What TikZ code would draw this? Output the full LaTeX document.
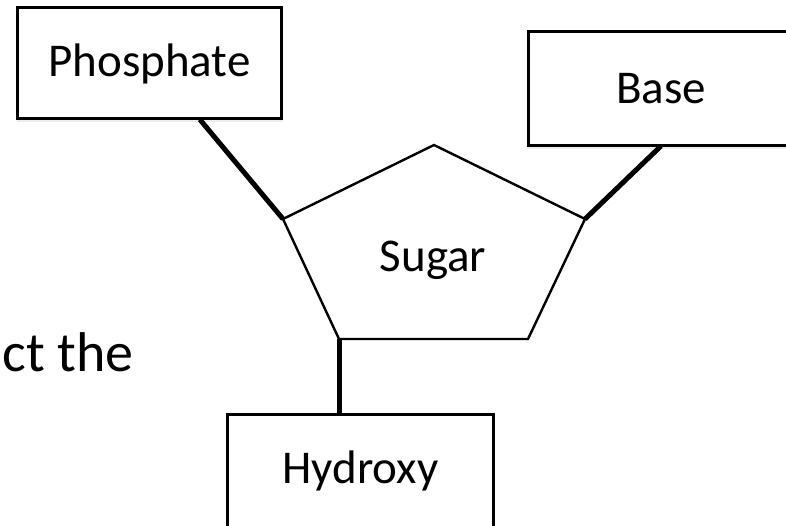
\documentclass[tikz,border=0pt]{standalone}
\usepackage{fontspec}
\setmainfont{Carlito}
\usetikzlibrary{calc}

\begin{document}
\begin{tikzpicture}[x=1pt,y=-1pt,
  part/.style={draw=black,line width=2pt,fill=white,inner sep=0pt,
    font=\fontsize{47}{56}\selectfont},
  bond/.style={line width=5pt,line cap=butt},
  ring/.style={draw=black,line width=2.4pt,line join=miter,fill=white},
  shade/.style={fill=black,opacity=0.07}]
  \useasboundingbox (0,0) rectangle (786,526);
  \clip (0,0) rectangle (786,526);

  % soft shadows under the three group boxes
  \foreach \d in {1,2,3} {
    \fill[shade] (18-\d*0.5,9+\d) rectangle (281+\d*0.5,118+\d*1.2);
    \fill[shade] (529-\d*0.5,32+\d) rectangle (800,145+\d*1.2);
    \fill[shade] (228-\d*0.5,415+\d) rectangle (493+\d*0.5,530);
  }

  % the three groups
  \node[part,minimum width=263pt,minimum height=110pt] (phos) at (149.5,63.5) {Phosphate};
  \node[part,minimum width=264pt,minimum height=113pt] (base) at (661,88.5) {Base};
  \node[part,minimum width=265pt,minimum height=112pt] (hydr) at (360.5,471) {Hydroxy};

  % sugar ring corners
  \coordinate (top) at (434,145);
  \coordinate (lft) at (283,219);
  \coordinate (rgt) at (585,219);
  \coordinate (bl)  at (339,339);
  \coordinate (br)  at (528,339);

  % attachment points on the boxes
  \coordinate (pA) at ($(phos.south west)!0.69!(phos.south east)$);
  \coordinate (bA) at (base.south);
  \coordinate (hA) at (hydr.north west -| bl);

  % bonds
  \draw[bond] (pA) -- (lft);
  \draw[bond] (bA) -- (rgt);
  \draw[bond] (hA) -- (bl);

  % sugar ring
  \draw[ring] (top) -- (rgt) -- (br) -- (bl) -- (lft) -- cycle;
  \node[font=\fontsize{47}{56}\selectfont] (sugar) at (433,260) {Sugar};

  % redraw box outlines over bond ends
  \draw[line width=2pt] (phos.south west) rectangle (phos.north east);
  \draw[line width=2pt] (base.south west) rectangle (base.north east);
  \draw[line width=2pt] (hydr.south west) rectangle (hydr.north east);

  % slide text running in from the left edge
  \node[anchor=base east,inner sep=0pt,font=\fontsize{56}{67}\selectfont] (ctext) at (134,371) {ct the};
\end{tikzpicture}
\end{document}
